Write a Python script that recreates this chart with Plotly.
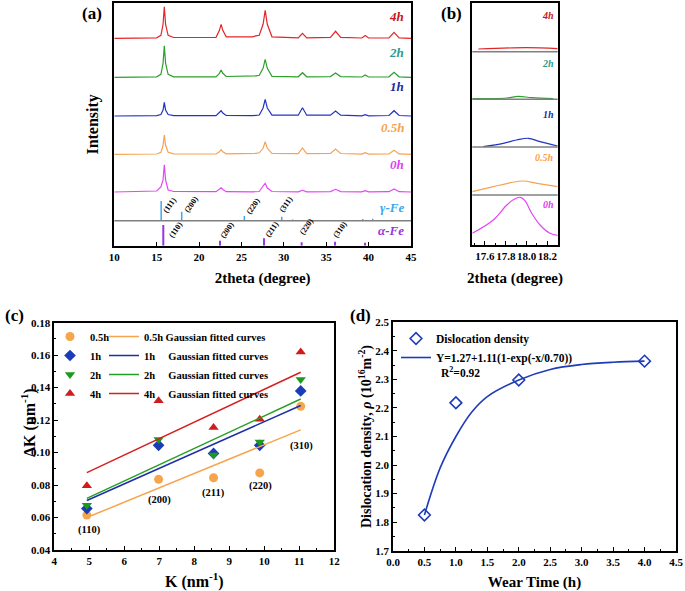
import plotly.graph_objects as go

FONT = "Liberation Serif"

# ---------------- (a) XRD patterns ----------------
two_theta = [10.0, 15.0, 15.5, 15.75, 15.9, 16.05, 16.35, 17.0,
             22.0, 22.4, 22.6, 22.8, 23.2,
             26.3, 26.7, 27.1, 27.55, 27.8, 28.05, 28.6,
             31.7, 32.2, 32.7,
             35.5, 36.1, 36.7,
             39.2, 39.6, 40.0,
             42.4, 43.0, 43.6, 45.0]

int_4h = [0, 0.5, 3, 14, 31.6, 14, 3, 0.8,
          1, 8, 14, 8, 1.5,
          1.5, 2.5, 3, 14, 28, 14, 1.5,
          0.5, 5, 0.5,
          1, 7, 1,
          0.3, 2.7, 0.3,
          0.5, 6, 0.5, 0]
int_2h = [0, 0.5, 3, 14, 31.6, 14, 3, 0.5,
          0.5, 4, 7.3, 4, 0.8,
          1, 1.5, 2, 9, 18, 9, 1,
          0.5, 4.6, 0.5,
          0.7, 4.3, 0.7,
          0.3, 2.3, 0.3,
          0.5, 5, 0.5, 0]
int_1h = [0, 0.3, 1.5, 6, 13.7, 6, 1.5, 0.3,
          0.3, 3, 5.3, 3, 0.5,
          0.3, 0.5, 1, 8, 16.7, 8, 0.8,
          0.8, 8.3, 0.8,
          0.8, 5, 0.8,
          0.2, 1.3, 0.2,
          0.5, 5.3, 0.5, 0]
int_05h = [0, 0.3, 2, 9, 19.3, 9, 2, 0.4,
           0.3, 2.5, 4.6, 2.5, 0.5,
           0.5, 1, 1.5, 6, 12.6, 6, 0.8,
           0.6, 6.3, 0.6,
           0.8, 5.3, 0.8,
           0.2, 1.6, 0.2,
           0.4, 4, 0.4, 0]
int_0h = [0, 1, 5, 12, 27.3, 12, 2, 0.5,
          0.3, 2.5, 4.3, 2.5, 0.3,
          0.2, 0.3, 0.5, 6, 8.7, 4, 0.5,
          0.2, 1.7, 0.2,
          0.4, 2.7, 0.4,
          0.2, 1.3, 0.2,
          0.3, 3, 0.3, 0]

samples = ["4h", "2h", "1h", "0.5h", "0h"]
offsets_a = {"4h": 207.4, "2h": 168.4, "1h": 129.7, "0.5h": 91.4, "0h": 53.7}
intensities = {"4h": int_4h, "2h": int_2h, "1h": int_1h, "0.5h": int_05h, "0h": int_0h}

gamma_pos = [15.53, 17.95, 25.34, 29.75, 31.04, 36.04, 39.3, 40.48]
gamma_h = [19.7, 9.0, 4.7, 4.0, 1.3, 0.5, 1.7, 2.0]
gamma_hkl = ["(111)", "(200)", "(220)", "(311)"]
alpha_pos = [15.78, 22.47, 27.66, 32.1, 36.04, 39.58]
alpha_h = [20.7, 5.0, 7.4, 3.4, 4.0, 3.0]
alpha_hkl = ["(110)", "(200)", "(211)", "(220)", "(310)"]
gamma_base = 25.0

# ---------------- (b) zoomed region ----------------
b_x = {
    "4h": [17.536, 18.0, 18.30],
    "2h": [17.478, 17.81, 17.92, 18.05, 18.257],
    "1h": [17.584, 17.776, 17.905, 18.017, 18.13, 18.30],
    "0.5h": [17.478, 17.68, 17.845, 17.97, 18.10, 18.30],
    "0h": [17.478, 17.68, 17.81, 17.88, 17.94, 17.985, 18.05, 18.13, 18.225, 18.30],
}
b_y = {
    "4h": [196.0, 197.3, 196.3],
    "2h": [146.3, 147.0, 148.7, 147.3, 146.3],
    "1h": [98.3, 101.7, 105.0, 106.7, 103.3, 99.0],
    "0.5h": [53.3, 58.3, 62.3, 64.0, 61.7, 58.3],
    "0h": [11.7, 25.0, 40.0, 45.7, 47.7, 44.3, 31.7, 20.0, 11.7, 9.7],
}

# ---------------- (c) Williamson-Hall ----------------
K = [4.93, 6.98, 8.55, 9.87, 11.04]
peak_hkl = ["(110)", "(200)", "(211)", "(220)", "(310)"]
dK = {
    "0.5h": [0.0615, 0.0835, 0.0845, 0.0875, 0.1285],
    "1h": [0.0655, 0.1045, 0.0995, 0.1045, 0.138],
    "2h": [0.0675, 0.108, 0.0985, 0.1065, 0.145],
    "4h": [0.0795, 0.132, 0.1155, 0.1205, 0.162],
}
fit_K = [4.93, 11.04]
fit_dK = {
    "0.5h": [0.0600, 0.1140],
    "1h": [0.0705, 0.1290],
    "2h": [0.0718, 0.1330],
    "4h": [0.0877, 0.1495],
}

# ---------------- (d) dislocation density ----------------
wear_time = [0.5, 1.0, 2.0, 4.0]
density = [1.825, 2.218, 2.298, 2.364]
curve_t = [0.5, 0.75, 1.0, 1.25, 1.5, 2.0, 2.5, 3.0, 3.5, 4.0]
curve_rho = [1.825, 1.99, 2.10, 2.185, 2.24, 2.298, 2.335, 2.352, 2.36, 2.364]

# ---------------- styles ----------------
curve_col = {"4h": "#e3262a", "2h": "#2ca02c", "1h": "#2234c4", "0.5h": "#f7a24f", "0h": "#e445f4"}
label_col = {"4h": "#c8161d", "2h": "#2a9a8e", "1h": "#1c2a9c", "0.5h": "#f7a24f", "0h": "#df3ff0"}
c_col = {"0.5h": "#f7a54c", "1h": "#1a3cb8", "2h": "#1d9a1d", "4h": "#d01c1c"}
c_line = {"0.5h": "#f7a54c", "1h": "#1c2fa8", "2h": "#23a023", "4h": "#d42020"}
c_sym = {"0.5h": "circle", "1h": "diamond", "2h": "triangle-down", "4h": "triangle-up"}
GAMMA_COL = "#3aa8ef"
ALPHA_COL = "#9a34e0"

fig = go.Figure()

# (a) curves
for s in samples:
    fig.add_trace(go.Scatter(
        x=two_theta, y=[offsets_a[s] + v for v in intensities[s]],
        mode="lines", line=dict(color=curve_col[s], width=1.2),
        xaxis="x", yaxis="y", showlegend=False))

# (a) sticks
gx, gy = [], []
for p, h in zip(gamma_pos, gamma_h):
    gx += [p, p, None]
    gy += [gamma_base, gamma_base + h, None]
fig.add_trace(go.Scatter(x=gx, y=gy, mode="lines", line=dict(color=GAMMA_COL, width=1.5),
                         xaxis="x", yaxis="y", showlegend=False))
ax_, ay_ = [], []
for p, h in zip(alpha_pos, alpha_h):
    ax_ += [p, p, None]
    ay_ += [0, h, None]
fig.add_trace(go.Scatter(x=ax_, y=ay_, mode="lines", line=dict(color=ALPHA_COL, width=2),
                         xaxis="x", yaxis="y", showlegend=False))

# (b) curves
for s in samples:
    fig.add_trace(go.Scatter(
        x=b_x[s], y=b_y[s], mode="lines", line=dict(color=curve_col[s], width=1.2, shape="spline"),
        xaxis="x2", yaxis="y2", showlegend=False))

# (c) points and fits
for s in ["0.5h", "1h", "2h", "4h"]:
    fig.add_trace(go.Scatter(
        x=K, y=dK[s], mode="markers", name=s,
        marker=dict(color=c_col[s], symbol=c_sym[s], size=9),
        xaxis="x3", yaxis="y3", legend="legend"))
for s in ["0.5h", "1h", "2h", "4h"]:
    pad = "&nbsp;" if s == "0.5h" else "&nbsp;" * 5
    fig.add_trace(go.Scatter(
        x=fit_K, y=fit_dK[s], mode="lines", name=f"{s}{pad}Gaussian fitted curves",
        line=dict(color=c_line[s], width=1.5),
        xaxis="x3", yaxis="y3", legend="legend2"))

# (d)
fig.add_trace(go.Scatter(
    x=wear_time, y=density, mode="markers", name="Dislocation density",
    marker=dict(symbol="diamond-open", size=9, color="#1f3cb8", line=dict(width=1.6, color="#1f3cb8")),
    xaxis="x4", yaxis="y4", legend="legend3"))
fig.add_trace(go.Scatter(
    x=curve_t, y=curve_rho, mode="lines", name="Y=1.27+1.11(1-exp(-x/0.70))",
    line=dict(color="#1f3cb8", width=1.6, shape="spline"),
    xaxis="x4", yaxis="y4", legend="legend3"))

W, H = 685, 591
def fx(px): return px / W
def fy(py): return 1 - py / H

tickfont = dict(family=FONT, size=11, color="black", weight="bold")
titlefont = dict(family=FONT, size=15, color="black", weight="bold")
axis_common = dict(showline=True, linecolor="black", linewidth=1.6, mirror=True,
                   tickcolor="black", ticklen=4, tickwidth=1.2, automargin=False,
                   showgrid=False, zeroline=False, tickfont=tickfont)

annotations = []
# (a) sample labels
a_label_y = {"4h": 229, "2h": 193.7, "1h": 159.7, "0.5h": 118.7, "0h": 81.7}
for s in samples:
    annotations.append(dict(x=44.4, y=a_label_y[s], xref="x", yref="y", xanchor="right", yanchor="middle",
                            text=f"<b><i>{s}</i></b>", showarrow=False,
                            font=dict(family=FONT, size=13, color=label_col[s])))
annotations.append(dict(x=44.4, y=38.7, xref="x", yref="y", xanchor="right", yanchor="middle",
                        text="<b><i>γ-Fe</i></b>", showarrow=False, font=dict(family=FONT, size=13, color=GAMMA_COL)))
annotations.append(dict(x=44.4, y=15.7, xref="x", yref="y", xanchor="right", yanchor="middle",
                        text="<b><i>α-Fe</i></b>", showarrow=False, font=dict(family=FONT, size=13, color=ALPHA_COL)))
# hkl labels in (a)
g_lab_xy = [(16.49, 40.7), (19.05, 41.7), (26.33, 39.7), (30.22, 41.7)]
for t, (xx, yy) in zip(gamma_hkl, g_lab_xy):
    annotations.append(dict(x=xx, y=yy, xref="x", yref="y", text=f"<b>{t}</b>", showarrow=False, textangle=-55,
                            font=dict(family=FONT, size=8, color="black")))
a_lab_xy = [(17.16, 15.7), (23.26, 15.7), (28.57, 16.7), (32.7, 19.0), (36.63, 16.4)]
for t, (xx, yy) in zip(alpha_hkl, a_lab_xy):
    annotations.append(dict(x=xx, y=yy, xref="x", yref="y", text=f"<b>{t}</b>", showarrow=False, textangle=-55,
                            font=dict(family=FONT, size=8, color="black")))
# (b) labels
b_label_y = {"4h": 230, "2h": 182, "1h": 131, "0.5h": 88, "0h": 41}
for s in samples:
    annotations.append(dict(x=18.28, y=b_label_y[s], xref="x2", yref="y2", xanchor="right", yanchor="middle",
                            text=f"<b><i>{s}</i></b>", showarrow=False,
                            font=dict(family=FONT, size=10, color=label_col[s])))
# (c) hkl labels
c_lab_xy = [(5.0, 0.0524), (7.0, 0.0709), (8.55, 0.075), (9.9, 0.0797), (11.05, 0.1038)]
for t, (xx, yy) in zip(peak_hkl, c_lab_xy):
    annotations.append(dict(x=xx, y=yy, xref="x3", yref="y3", text=f"<b>{t}</b>", showarrow=False,
                            font=dict(family=FONT, size=10.5, color="black")))
# (c) y-axis title
annotations.append(dict(x=fx(28), y=fy(423), xref="paper", yref="paper", xanchor="center", yanchor="middle",
                        text="<b>ΔK (nm<sup>-1</sup>)</b>", textangle=-90, showarrow=False,
                        font=dict(family=FONT, size=16, color="black")))
# (d) R^2
annotations.append(dict(x=fx(439), y=fy(372), xref="paper", yref="paper", xanchor="left", yanchor="middle",
                        text="<b>R<sup>2</sup>=0.92</b>", showarrow=False,
                        font=dict(family=FONT, size=11.5, color="black")))
# panel labels
for t, px, py in [("(a)", 92, 13), ("(b)", 452, 13), ("(c)", 14, 315), ("(d)", 360, 315)]:
    annotations.append(dict(x=fx(px), y=fy(py), xref="paper", yref="paper", text=f"<b>{t}</b>",
                            xanchor="center", yanchor="middle",
                            showarrow=False, font=dict(family=FONT, size=17, color="black")))

shapes = [
    dict(type="line", xref="x domain", yref="y", x0=0, x1=1, y0=gamma_base, y1=gamma_base,
         line=dict(color="#808080", width=1.6)),
]
for yy in [50, 98, 145.7, 193.3]:
    shapes.append(dict(type="line", xref="x2 domain", yref="y2", x0=0, x1=1, y0=yy, y1=yy,
                       line=dict(color="#808080", width=1.6)))

legend_font = dict(family=FONT, size=10.5, color="black", weight="bold")
minor_style = dict(ticks="inside", ticklen=2, tickcolor="black")

fig.update_layout(
    width=W, height=H, margin=dict(l=0, r=0, t=0, b=0, autoexpand=False),
    paper_bgcolor="white", plot_bgcolor="white",
    font=dict(family=FONT, color="black"),
    xaxis=dict(domain=[fx(114.3), fx(411)], range=[10, 45], dtick=5, tick0=10, anchor="y", ticks="inside",
               title=dict(text="2theta (degree)", font=titlefont, standoff=11), **axis_common),
    yaxis=dict(domain=[fy(245.7), fy(3)], range=[0, 242.7], showticklabels=False, anchor="x", ticks="",
               title=dict(text="Intensity", font=dict(family=FONT, size=16, color="black", weight="bold"), standoff=10),
               **axis_common),
    xaxis2=dict(domain=[fx(472.3), fx(557.7)], range=[17.478, 18.30], tickvals=[17.6, 17.8, 18.0, 18.2],
                ticktext=["17.6", "17.8", "18.0", "18.2"], anchor="y2", ticks="inside", tickangle=0,
                minor=dict(dtick=0.1, tick0=17.5, **minor_style),
                title=dict(text="2theta (degree)", font=titlefont, standoff=11), **axis_common),
    yaxis2=dict(domain=[fy(245), fy(3.3)], range=[0, 241.7], showticklabels=False, anchor="x2", ticks="",
                **axis_common),
    xaxis3=dict(domain=[fx(54.3), fx(334.3)], range=[4, 12], dtick=1, anchor="y3", ticks="inside",
                minor=dict(dtick=0.5, **minor_style),
                title=dict(text="K (nm<sup>-1</sup>)", font=dict(family=FONT, size=16, color="black", weight="bold"), standoff=12),
                **axis_common),
    yaxis3=dict(domain=[fy(550), fy(322.7)], range=[0.04, 0.18], dtick=0.02, tickformat=".2f", anchor="x3", ticks="inside",
                minor=dict(dtick=0.01, **minor_style),
                **axis_common),
    xaxis4=dict(domain=[fx(393), fx(676)], range=[0, 4.5], dtick=0.5, tickformat=".1f", anchor="y4", ticks="inside",
                minor=dict(dtick=0.25, **minor_style),
                title=dict(text="Wear Time (h)", font=titlefont, standoff=11), **axis_common),
    yaxis4=dict(domain=[fy(550.7), fy(322.3)], range=[1.7, 2.5], dtick=0.1, tickformat=".1f", anchor="x4", ticks="inside",
                minor=dict(dtick=0.05, **minor_style),
                title=dict(text="Dislocation density, <i>ρ</i> (10<sup>16</sup>m<sup>-2</sup>)",
                           font=dict(family=FONT, size=14, color="black", weight="bold"), standoff=0),
                **axis_common),
    legend=dict(x=fx(50), y=fy(322), xanchor="left", yanchor="top", bgcolor="rgba(0,0,0,0)",
                font=legend_font, tracegroupgap=0),
    legend2=dict(x=fx(104), y=fy(322), xanchor="left", yanchor="top", bgcolor="rgba(0,0,0,0)",
                 font=legend_font, tracegroupgap=0),
    legend3=dict(x=fx(396), y=fy(324), xanchor="left", yanchor="top", bgcolor="rgba(0,0,0,0)",
                 font=dict(family=FONT, size=11.5, color="black", weight="bold"), tracegroupgap=0),
    annotations=annotations,
    shapes=shapes,
)

fig.write_html("out.html", config={"displayModeBar": False},
               post_script="document.body.style.margin='0px';document.body.style.overflow='hidden';")
